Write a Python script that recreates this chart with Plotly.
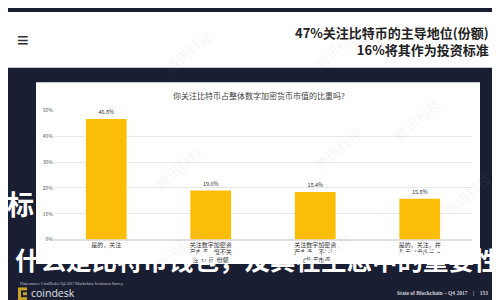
import plotly.graph_objects as go

categories = [
    "是的，关注",
    "关注数字加密资<br>产市值，但不关<br>注比特币份额",
    "关注数字加密资<br>产市场，不关注<br>比特币市值",
    "是的，关注，并<br>基于此考虑投资",
]
values = [46.8, 19.0, 18.4, 15.8]
value_labels = ["46.8%", "19.0%", "18.4%", "15.8%"]
y_ticks = [0, 10, 20, 30, 40, 50]
y_tick_labels = ["0%", "10%", "20%", "30%", "40%", "50%"]

W, H = 500, 300
DARK = "#1a1e33"
YELLOW = "#fbbd08"
CJK = "Noto Sans CJK SC"


def px(x):
    return x / W


def py(y):
    return 1 - y / H


fig = go.Figure()
fig.add_trace(go.Bar(
    x=categories, y=values, marker_color=YELLOW, marker_line_width=0,
    text=value_labels, textposition="outside", cliponaxis=False,
    textfont=dict(size=5.5, color="#333", family=CJK),
))

shapes = [
    dict(type="rect", xref="paper", yref="paper", x0=0, x1=1, y0=py(57), y1=1,
         fillcolor="white", line_width=0, layer="below"),
    dict(type="rect", xref="paper", yref="paper", x0=px(28), x1=px(472), y0=py(258), y1=py(72),
         fillcolor="white", line_width=0, layer="below"),
    dict(type="rect", xref="paper", yref="paper", x0=px(10), x1=px(19), y0=py(295), y1=py(282),
         fillcolor="#c9a227", line_width=0),
    dict(type="rect", xref="paper", yref="paper", x0=px(13), x1=px(19), y0=py(292), y1=py(285),
         fillcolor=DARK, line_width=0),
    dict(type="rect", xref="paper", yref="paper", x0=px(15), x1=px(19), y0=py(290), y1=py(287),
         fillcolor="#c9a227", line_width=0),
]

annotations = [
    dict(text="≡", x=px(15), y=py(28), xref="paper", yref="paper", showarrow=False,
         font=dict(size=20, color="#333"), xanchor="center", yanchor="middle"),
    dict(text="<b>47%关注比特币的主导地位(份额)<br>16%将其作为投资标准</b>", x=px(483), y=py(30),
         xref="paper", yref="paper", showarrow=False, xanchor="right", yanchor="middle", align="right",
         font=dict(size=13, color="#222", family=CJK)),
    dict(text="你关注比特币占整体数字加密货币市值的比重吗?", x=px(251), y=py(86), xref="paper", yref="paper",
         showarrow=False, xanchor="center", yanchor="middle", font=dict(size=8, color="#444", family=CJK)),
    dict(text="<b>标</b>", x=px(12), y=py(196), xref="paper", yref="paper", showarrow=False,
         xanchor="center", yanchor="middle", font=dict(size=27, color="white", family=CJK)),
    dict(text="<b>什么是比特币钱包，及其在生态中的重要性</b>", x=px(249), y=py(252), xref="paper", yref="paper",
         showarrow=False, xanchor="center", yanchor="middle", font=dict(size=25.5, color="white", family=CJK)),
    dict(text="Data source: CoinDesk's Q4 2017 Blockchain Sentiment Survey", x=px(10), y=py(278),
         xref="paper", yref="paper", showarrow=False, xanchor="left", yanchor="middle",
         font=dict(size=4, color="#c8c8d0", family="Liberation Serif")),
    dict(text="coindesk", x=px(21), y=py(288), xref="paper", yref="paper", showarrow=False,
         xanchor="left", yanchor="middle", font=dict(size=10.5, color="#e0e0e6", family="Open Sans")),
    dict(text="<b>State of Blockchain – Q4 2017    |    153</b>", x=px(482), y=py(288), xref="paper",
         yref="paper", showarrow=False, xanchor="right", yanchor="middle",
         font=dict(size=5.5, color="#d0d0d8", family="Liberation Serif")),
]

for (wx, wy) in [(140, 272), (320, 275), (490, 215), (150, 12), (330, 8), (140, 160), (330, 140), (440, 110)]:
    annotations.append(dict(text="腾讯科技", x=px(wx), y=py(wy), xref="paper", yref="paper", showarrow=False,
                            textangle=-40, font=dict(size=14, color="rgba(150,150,170,0.1)", family=CJK)))

fig.update_layout(
    width=W, height=H, margin=dict(l=0, r=0, t=0, b=0),
    paper_bgcolor=DARK, plot_bgcolor="rgba(0,0,0,0)",
    showlegend=False, bargap=0.61,
    shapes=shapes, annotations=annotations,
    xaxis=dict(domain=[px(46), px(464)], showgrid=False, showline=False, ticks="",
               tickfont=dict(size=6, color="#333", family=CJK), tickangle=0),
    yaxis=dict(domain=[py(233), py(101)], range=[0, 50], tickvals=y_ticks, ticktext=y_tick_labels,
               showgrid=True, gridcolor="#e8e8e8", gridwidth=1, zeroline=True, zerolinecolor="#e0e0e0",
               showline=False, ticks="", tickfont=dict(size=5, color="#555", family=CJK)),
)

fig.write_html("out.html")
